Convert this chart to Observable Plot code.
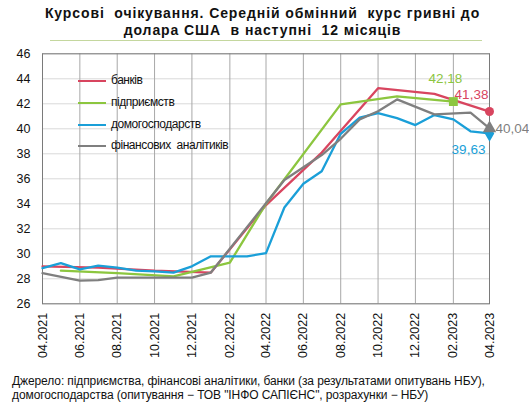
<!DOCTYPE html>
<html>
<head>
<meta charset="utf-8">
<script src="https://cdn.jsdelivr.net/npm/d3@7"></script>
<script src="https://cdn.jsdelivr.net/npm/@observablehq/plot@0.6"></script>
<style>
  html, body { margin: 0; padding: 0; background: #fff; }
  #wrap { position: relative; width: 529px; height: 402px; overflow: hidden; font-family: "Liberation Sans", Arial, sans-serif; color: #111; }
  #title { position: absolute; left: 0; top: 5px; width: 525px; text-align: center; font-weight: bold; font-size: 14px; line-height: 17px; letter-spacing: 0.9px; white-space: pre; }
  #rule { position: absolute; left: 50px; top: 40px; width: 432px; height: 0; border-top: 1.5px solid #c4d79e; }
  #chart { position: absolute; left: 0; top: 40px; }
  #legend { position: absolute; left: 78px; top: 71px; font-size: 12px; letter-spacing: -0.45px; }
  #legend .row { position: relative; height: 21.8px; line-height: 19px; }
  #legend .sw { position: absolute; left: 0; top: 9px; width: 28px; height: 0; border-top: 2px solid; }
  #legend .lb { position: absolute; left: 33px; top: 0; white-space: pre; }
  #caption { position: absolute; left: 12px; top: 374px; font-size: 12px; line-height: 14px; white-space: pre; letter-spacing: -0.1px; }
</style>
</head>
<body>
<div id="wrap">
  <div id="title">Курсові  очікування. Середній обмінний  курс гривні до
долара США  в наступні  12 місяців</div>
  <div id="rule"></div>
  <div id="chart"></div>
  <div id="legend"></div>
  <div id="caption">Джерело: підприємства, фінансові аналітики, банки (за результатами опитувань НБУ),
домогосподарства (опитування − ТОВ "ІНФО САПІЄНС", розрахунки − НБУ)</div>
</div>
<script>
// ---- data ----
const seriesNames = ["банків", "підприємств", "домогосподарств", "фінансових  аналітиків"];
const seriesColors = ["#d8455f", "#8cc63f", "#1a9fd8", "#7f7f7f"];

const banksDates = ["2021-04","2021-07","2021-10","2022-01","2022-04","2022-07","2022-10","2023-01","2023-04"];
const banksValues = [29.0, 28.9, 28.65, 28.5, 33.9, 38.1, 43.25, 42.8, 41.38];

const enterprisesDates = ["2021-05","2021-08","2021-11","2022-02","2022-04","2022-08","2022-11","2023-02"];
const enterprisesValues = [28.65, 28.45, 28.2, 29.3, 34.0, 41.95, 42.6, 42.18];

const householdsDates = ["2021-04","2021-05","2021-06","2021-07","2021-08","2021-09","2021-10","2021-11","2021-12",
  "2022-01","2022-02","2022-03","2022-04","2022-05","2022-06","2022-07","2022-08","2022-09","2022-10","2022-11",
  "2022-12","2023-01","2023-02","2023-03","2023-04"];
const householdsValues = [28.85, 29.25, 28.75, 29.05, 28.9, 28.65, 28.6, 28.5, 29.0,
  29.8, 29.8, 29.8, 30.05, 33.7, 35.6, 36.6, 39.6, 40.9, 41.25, 40.85,
  40.3, 41.1, 40.75, 39.8, 39.63];

const analystsDates = ["2021-04","2021-06","2021-07","2021-08","2021-12","2022-01","2022-05","2022-07","2022-08",
  "2022-09","2022-10","2022-11","2023-01","2023-03","2023-04"];
const analystsValues = [28.45, 27.85, 27.9, 28.1, 28.1, 28.5, 35.9, 37.9, 39.2,
  40.75, 41.4, 42.35, 41.15, 41.3, 40.04];

const xTickLabels = ["04.2021","06.2021","08.2021","10.2021","12.2021","02.2022","04.2022","06.2022","08.2022","10.2022","12.2022","02.2023","04.2023"];
const yTicks = [26, 28, 30, 32, 34, 36, 38, 40, 42, 44, 46];

// highlighted points per series
const markerSymbols = ["circle", "square", "diamond", "triangle"];
const markerDates = ["2023-04", "2023-02", "2023-04", "2023-04"];

// ---- build ----
const parse = d3.utcParse("%Y-%m");
const parseTick = d3.utcParse("%m.%Y");
const fmt = v => d3.format(".2f")(v).replace(".", ",");

const allDates = [banksDates, enterprisesDates, householdsDates, analystsDates];
const allValues = [banksValues, enterprisesValues, householdsValues, analystsValues];
const rows = [];
allDates.forEach((ds, i) => ds.forEach((d, j) => rows.push({s: i, date: parse(d), v: allValues[i][j]})));

const markers = markerDates.map((d, i) => rows.find(r => r.s === i && +r.date === +parse(d)));
const xTicks = xTickLabels.map(parseTick);

const labelOffsets = [
  {dx: -18, dy: -17, anchor: "middle"},
  {dx: -8, dy: -23, anchor: "middle"},
  {dx: -21, dy: 16, anchor: "middle"},
  {dx: 6, dy: 0, anchor: "start"}
];

const lineMarks = [0, 1, 2, 3].map(i =>
  Plot.line(rows.filter(r => r.s === i), {x: "date", y: "v", stroke: seriesColors[i], strokeWidth: 2.3, strokeLinejoin: "round"})
);
const dotMarks = markers.map((m, i) =>
  Plot.dot([m], {x: "date", y: "v", fill: seriesColors[i], stroke: "none", symbol: markerSymbols[i], r: i === 0 ? 4.5 : 5})
);
const textMarks = markers.map((m, i) =>
  Plot.text([m], {x: "date", y: "v", text: d => fmt(d.v), fill: seriesColors[i], fontSize: 13.5,
    dx: labelOffsets[i].dx, dy: labelOffsets[i].dy, textAnchor: labelOffsets[i].anchor})
);

const chart = Plot.plot({
  width: 529,
  height: 325,
  marginLeft: 42,
  marginRight: 40,
  marginTop: 13.3,
  marginBottom: 61.7,
  style: {fontFamily: "'Liberation Sans', Arial, sans-serif", fontSize: "12px", color: "#111", background: "transparent", overflow: "visible"},
  x: {type: "utc", domain: [parse("2021-04"), parse("2023-04")]},
  y: {domain: [26, 46]},
  marks: [
    Plot.gridY(yTicks, {stroke: "#d9d9d9", strokeOpacity: 1}),
    Plot.gridX(xTicks, {stroke: "#a8a8a8", strokeOpacity: 1}),
    Plot.frame({stroke: "#7a7a7a"}),
    Plot.axisY(yTicks, {tickSize: 0, tickPadding: 12, fontSize: 12.5, tickFormat: d => String(d), label: null}),
    Plot.axisX(xTicks, {tickSize: 0, tickPadding: 9, tickRotate: -90, fontSize: 12.5, tickFormat: d3.utcFormat("%m.%Y"), label: null}),
    ...lineMarks,
    ...dotMarks,
    ...textMarks
  ]
});
document.getElementById("chart").appendChild(chart);

// legend
const legend = document.getElementById("legend");
seriesNames.forEach((name, i) => {
  const row = document.createElement("div");
  row.className = "row";
  const sw = document.createElement("div");
  sw.className = "sw";
  sw.style.borderTopColor = seriesColors[i];
  const lb = document.createElement("div");
  lb.className = "lb";
  lb.textContent = name;
  row.appendChild(sw);
  row.appendChild(lb);
  legend.appendChild(row);
});
</script>
</body>
</html>
